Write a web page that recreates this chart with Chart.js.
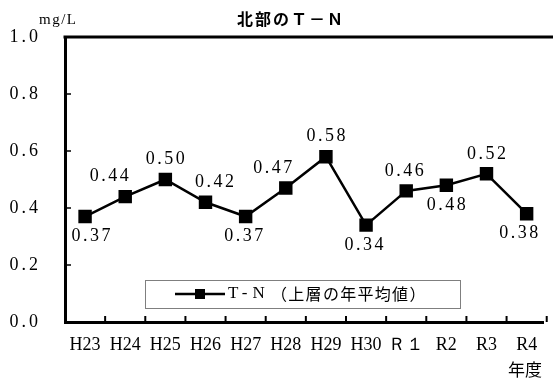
<!DOCTYPE html>
<html>
<head>
<meta charset="utf-8">
<script src="https://cdn.jsdelivr.net/npm/chart.js@4.4.1/dist/chart.umd.min.js"></script>
<style>
  html, body { margin: 0; padding: 0; background: #ffffff; }
  #wrap { position: relative; width: 553px; height: 381px; }
</style>
</head>
<body>
<div id="wrap"><canvas id="c" width="553" height="381"></canvas></div>
<script>
// ---- data ----
const chartTitle = "北部のＴ－Ｎ";
const unitLabel = "mg/L";
const xAxisTitle = "年度";
const categories = ["H23", "H24", "H25", "H26", "H27", "H28", "H29", "H30", "Ｒ１", "R2", "R3", "R4"];
const seriesName = "T-N（上層の年平均値）";
const tnValues = [0.37, 0.44, 0.50, 0.42, 0.37, 0.47, 0.58, 0.34, 0.46, 0.48, 0.52, 0.38];
const yTicks = [0.0, 0.2, 0.4, 0.6, 0.8, 1.0];

// label placement (style): above/below point, small horizontal nudge
const labelSide = ["below", "above", "above", "above", "below", "above", "above", "below", "above", "below", "above", "below"];
const labelNudge = [6, -16, 0, 9, -2, -13, 0, -2, -2, 0, 0, -8];

const SERIF = "'Liberation Serif'";
const CJK_FONT = "'Noto Sans CJK JP'";

const spacingPlugin = {
  id: "spacing",
  afterLayout(chart) {
    const ys = chart.scales.y;
    if (ys && !ys._spacedWrap) {
      const orig = ys.drawLabels;
      ys.drawLabels = function (area) {
        const ctx = this.ctx;
        ctx.save();
        ctx.letterSpacing = "3px";
        orig.call(this, area);
        ctx.restore();
      };
      ys._spacedWrap = true;
    }
  }
};

const decorPlugin = {
  id: "decor",
  afterDraw(chart) {
    const ctx = chart.ctx;
    const a = chart.chartArea;
    const xs = chart.scales.x, ys = chart.scales.y;
    ctx.save();
    // top frame line
    ctx.strokeStyle = "#000";
    ctx.lineWidth = 3;
    ctx.beginPath();
    ctx.moveTo(a.left - 1.5, a.top);
    ctx.lineTo(chart.width, a.top);
    ctx.stroke();
    // inward y tick marks
    ctx.lineWidth = 1.5;
    yTicks.forEach(v => {
      if (v <= 0 || v >= 1) return;
      const y = ys.getPixelForValue(v);
      ctx.beginPath();
      ctx.moveTo(a.left, y);
      ctx.lineTo(a.left + 6, y);
      ctx.stroke();
    });
    // inward x tick marks at category boundaries
    ctx.lineWidth = 2;
    for (let i = 0; i < categories.length; i++) {
      const x = xs.getPixelForValue(i + 0.5);
      if (x > chart.width) continue;
      ctx.beginPath();
      ctx.moveTo(x, a.bottom);
      ctx.lineTo(x, a.bottom - 6);
      ctx.stroke();
    }
    // data labels
    const meta = chart.getDatasetMeta(0);
    ctx.fillStyle = "#000";
    ctx.font = "18px " + SERIF;
    ctx.letterSpacing = "2.5px";
    ctx.textAlign = "center";
    ctx.textBaseline = "middle";
    meta.data.forEach((pt, i) => {
      const v = chart.data.datasets[0].data[i].y;
      const dy = labelSide[i] === "above" ? -20 : 20;
      ctx.fillText(v.toFixed(2), pt.x + labelNudge[i] + 1.25, pt.y + dy);
    });
    // title
    ctx.font = "bold 16px " + CJK_FONT;
    ctx.textAlign = "left";
    ctx.letterSpacing = "2px";
    ctx.fillText(chartTitle, 237, 19);
    // unit
    ctx.font = "15px " + SERIF;
    ctx.letterSpacing = "1.5px";
    ctx.fillText(unitLabel, 39, 20);
    // x axis title
    ctx.font = "17px " + CJK_FONT;
    ctx.letterSpacing = "0px";
    ctx.fillText(xAxisTitle, 508, 370);
    // legend box
    const ds = chart.data.datasets[0];
    const bx = 145, by = 280, bw = 315, bh = 28;
    ctx.fillStyle = "#fff";
    ctx.fillRect(bx, by, bw, bh);
    ctx.strokeStyle = "#7f7f7f";
    ctx.lineWidth = 1;
    ctx.strokeRect(bx + 0.5, by + 0.5, bw, bh);
    const cy = by + bh / 2;
    ctx.strokeStyle = ds.borderColor;
    ctx.lineWidth = ds.borderWidth;
    ctx.beginPath();
    ctx.moveTo(175, cy);
    ctx.lineTo(225, cy);
    ctx.stroke();
    ctx.fillStyle = ds.pointBackgroundColor;
    ctx.fillRect(195, cy - 5, 10, 10);
    ctx.fillStyle = "#000";
    ctx.textAlign = "left";
    ctx.font = "17px " + SERIF;
    const head = ds.label.slice(0, 3);
    const tail = ds.label.slice(3);
    ctx.letterSpacing = "5px";
    ctx.fillText(head, 228, cy);
    ctx.font = "16px " + CJK_FONT;
    ctx.letterSpacing = "1.3px";
    ctx.fillText(tail, 271, cy);
    ctx.letterSpacing = "0px";
    ctx.restore();
  }
};

new Chart(document.getElementById("c"), {
  type: "line",
  data: {
    datasets: [{
      label: seriesName,
      data: tnValues.map((v, i) => ({ x: i, y: v })),
      borderColor: "#000000",
      borderWidth: 2.5,
      pointStyle: "rect",
      pointRadius: 9.5,
      pointHoverRadius: 9.5,
      pointBackgroundColor: "#000000",
      pointBorderColor: "#000000",
      pointBorderWidth: 0,
      tension: 0,
      fill: false
    }]
  },
  options: {
    responsive: false,
    animation: false,
    events: [],
    layout: { padding: { top: 37, right: 0, left: 0, bottom: 0 } },
    plugins: {
      legend: { display: false },
      title: { display: false },
      tooltip: { enabled: false }
    },
    scales: {
      x: {
        type: "linear",
        min: -0.5,
        max: 11.42,
        afterBuildTicks(scale) {
          scale.ticks = categories.map((c, i) => ({ value: i }));
        },
        afterFit(scale) { scale.height = 59; },
        ticks: {
          autoSkip: false,
          maxRotation: 0,
          padding: 12,
          color: "#000",
          font: { family: SERIF, size: 18 },
          callback: (v) => categories[v] ?? ""
        },
        grid: { display: true, drawOnChartArea: false, drawTicks: false },
        border: { display: true, color: "#000", width: 3 }
      },
      y: {
        type: "linear",
        min: 0,
        max: 1,
        afterBuildTicks(scale) {
          scale.ticks = yTicks.map(v => ({ value: v }));
        },
        afterFit(scale) { scale.width = 65; },
        ticks: {
          padding: 24,
          color: "#000",
          font: { family: SERIF, size: 18 },
          callback: (v) => Number(v).toFixed(1)
        },
        grid: { display: true, drawOnChartArea: false, drawTicks: false },
        border: { display: true, color: "#000", width: 3 }
      }
    }
  },
  plugins: [spacingPlugin, decorPlugin]
});
</script>
</body>
</html>
